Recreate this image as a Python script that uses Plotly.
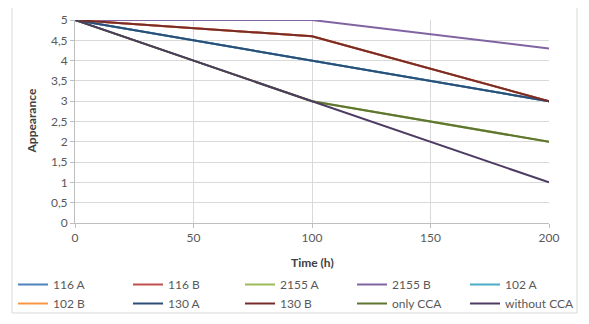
import plotly.graph_objects as go

time_h = [0, 100, 200]
series_names = ["116 A", "116 B", "2155 A", "2155 B", "102 A",
                "102 B", "130 A", "130 B", "only CCA", "without CCA"]
series_values = {
    "116 A": [5, 4, 3],
    "116 B": [5, 4.6, 3],
    "2155 A": [5, 3, 2],
    "2155 B": [5, 5, 4.3],
    "102 A": [5, 4, 3],
    "102 B": [5, 4.6, 3],
    "130 A": [5, 4, 3],
    "130 B": [5, 4.6, 3],
    "only CCA": [5, 3, 2],
    "without CCA": [5, 3, 1],
}
series_colors = {
    "116 A": "#4F81BD", "116 B": "#C0504D", "2155 A": "#9BBB59",
    "2155 B": "#8064A2", "102 A": "#4BACC6", "102 B": "#F79646",
    "130 A": "#2C4D75", "130 B": "#772C2A", "only CCA": "#5F7530",
    "without CCA": "#4D3B62",
}
x_title = "Time (h)"
y_title = "Appearance"

OFF = 8  # default page body margin
W, H = 589 - OFF, 324 - OFF
PW, PH = 474, 203  # plot area size in px
legend_cols_px = [13, 128, 240, 352, 465]
legend_ids = ["legend", "legend2", "legend3", "legend4", "legend5"]

fig = go.Figure()
for i, name in enumerate(series_names):
    fig.add_trace(go.Scatter(x=time_h, y=series_values[name], mode="lines",
                             name=name, legend=legend_ids[i % 5],
                             line=dict(color=series_colors[name], width=2)))

font_family = "Lato, 'Open Sans', sans-serif"
legend_layout = {}
for c, lid in enumerate(legend_ids):
    legend_layout[lid] = dict(orientation="v", xref="container", yref="container",
                              x=(legend_cols_px[c] - OFF) / W, y=1 - (270 - OFF) / H,
                              xanchor="left", yanchor="top",
                              font=dict(size=12, color="#595959", family=font_family),
                              tracegroupgap=0, itemwidth=30, bgcolor="rgba(0,0,0,0)")

fig.update_layout(
    width=W, height=H,
    margin=dict(l=75 - OFF, r=40, t=20 - OFF, b=101, autoexpand=False),
    paper_bgcolor="white", plot_bgcolor="white",
    separators=", ",
    font=dict(family=font_family, size=12, color="#595959"),
    showlegend=True,
    xaxis=dict(range=[0, 200], dtick=50, showgrid=True, gridcolor="#D9D9D9",
               showline=True, linecolor="#BFBFBF", ticks="outside", ticklen=4,
               tickcolor="#BFBFBF", zeroline=False),
    yaxis=dict(range=[0, 5], dtick=0.5, showgrid=True, gridcolor="#D9D9D9",
               showline=True, linecolor="#BFBFBF", ticks="outside", ticklen=4,
               tickcolor="#BFBFBF", zeroline=False),
    annotations=[
        dict(text="<b>" + x_title + "</b>", xref="paper", yref="paper",
             x=0.5, y=(223 - 262) / PH, xanchor="center", yanchor="middle",
             showarrow=False, font=dict(size=12, color="#404040")),
        dict(text="<b>" + y_title + "</b>", xref="paper", yref="paper",
             x=(31 - 75) / PW, y=0.5, xanchor="center", yanchor="middle",
             textangle=-90, showarrow=False, font=dict(size=12, color="#404040")),
    ],
    shapes=[dict(type="rect", xref="paper", yref="paper",
                 x0=(12 - 75) / PW, x1=(577 - 75) / PW,
                 y0=(223 - 313) / PH, y1=(223 - 5) / PH,
                 line=dict(color="#D9D9D9", width=1), layer="below")],
    **legend_layout,
)

fig.write_html("out.html", config={"displayModeBar": False})
